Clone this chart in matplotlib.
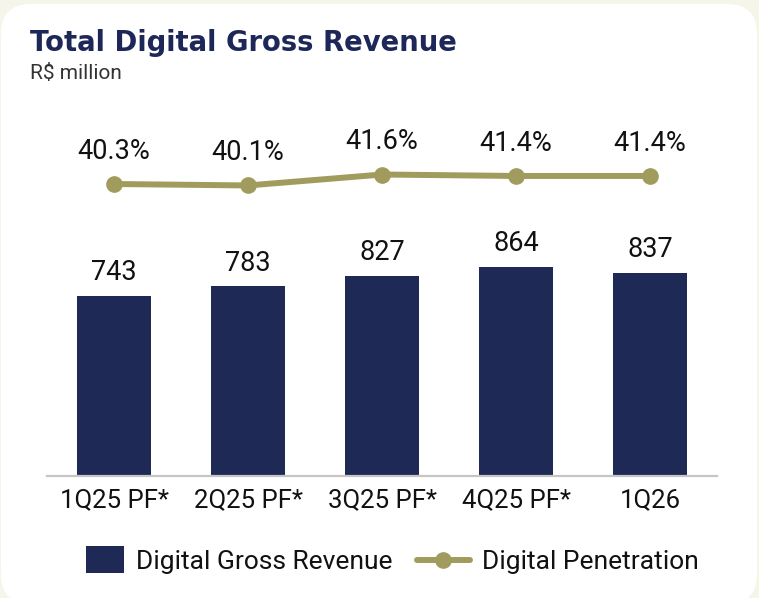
import matplotlib
matplotlib.use('Agg')
import matplotlib.pyplot as plt
from matplotlib.patches import FancyBboxPatch, Rectangle
from matplotlib.lines import Line2D
import numpy as np

#--------------------------------------------------#
quarters = ['1Q25 PF*', '2Q25 PF*', '3Q25 PF*', '4Q25 PF*', '1Q26']
gross_revenue = [743, 783, 827, 864, 837]   #R$ million
penetration = [40.3, 40.1, 41.6, 41.4, 41.4]   #%

title = 'Total Digital Gross Revenue'
subtitle = 'R$ million'
bar_name = 'Digital Gross Revenue'
line_name = 'Digital Penetration'
#--------------------------------------------------#

navy = '#1e2955'
olive = '#a19c5d'
cream = '#f6f5ea'
font = 'Roboto'
plt.rcParams['font.family'] = [font, 'DejaVu Sans']

W, H = 759, 598
fig = plt.figure(figsize=(W/100, H/100), dpi=100, facecolor=cream)

#Background axes in pixel units (origin top-left) for the panel, titles and legend.
bg = fig.add_axes([0, 0, 1, 1])
bg.set_xlim(0, W)
bg.set_ylim(H, 0)
bg.axis('off')
panel = FancyBboxPatch((1, 4), 756, 600, boxstyle='round,pad=0,rounding_size=30',
                       facecolor='white', edgecolor='none')
bg.add_patch(panel)
bg.text(30, 51, title, fontsize=19.8, fontweight='bold', color='#1d2858', va='baseline',
        family='DejaVu Sans')
bg.text(30, 79, subtitle, fontsize=15, color='#333333', va='baseline')

#Main axes: baseline at y=476 px, spanning x 47..717 px.
left, right, bottom, top = 47, 717, 476, 100
ax = fig.add_axes([left/W, (H-bottom)/H, (right-left)/W, (bottom-top)/H])
ax.patch.set_alpha(0)
x = np.arange(len(quarters))
ax.bar(x, gross_revenue, width=0.55, color=navy, zorder=2)
ax.set_xlim(-0.5, len(quarters) - 0.5)
ax.set_ylim(0, (bottom-top)/0.2423)
for xi, v in zip(x, gross_revenue):
    ax.annotate(str(v), (xi, v), xytext=(0, 7), textcoords='offset points',
                ha='center', va='bottom', fontsize=19.5, color='#111111')
for s in ['top', 'right', 'left']:
    ax.spines[s].set_visible(False)
ax.spines['bottom'].set_color('#c6c6c6')
ax.spines['bottom'].set_linewidth(1.6)
ax.set_yticks([])
ax.set_xticks(x)
ax.set_xticklabels(quarters, fontsize=18.5, color='#111111')
ax.tick_params(axis='x', length=0, pad=9)

ax2 = ax.twinx()
ax2.set_ylim(0.3, 0.3 + (bottom-top)/7.3)
ax2.plot(x, penetration, color=olive, lw=4.3, marker='o', ms=11, zorder=3)
for xi, v in zip(x, penetration):
    ax2.annotate('{:.1f}%'.format(v), (xi, v), xytext=(0, 14), textcoords='offset points',
                 ha='center', va='bottom', fontsize=19.5, color='#111111')
ax2.axis('off')

#Legend drawn by hand so the patch and line keys have their own widths.
bg.add_patch(Rectangle((86, 546), 38, 27, facecolor=navy, edgecolor='none'))
bg.text(136, 562, bar_name, fontsize=19, color='#111111', va='center')
bg.add_line(Line2D([417, 470], [560, 560], color=olive, lw=4.3, solid_capstyle='round'))
bg.add_line(Line2D([443], [560], color=olive, marker='o', ms=11))
bg.text(482, 562, line_name, fontsize=19, color='#111111', va='center')

fig.savefig('out.png', dpi=100, facecolor=cream)
